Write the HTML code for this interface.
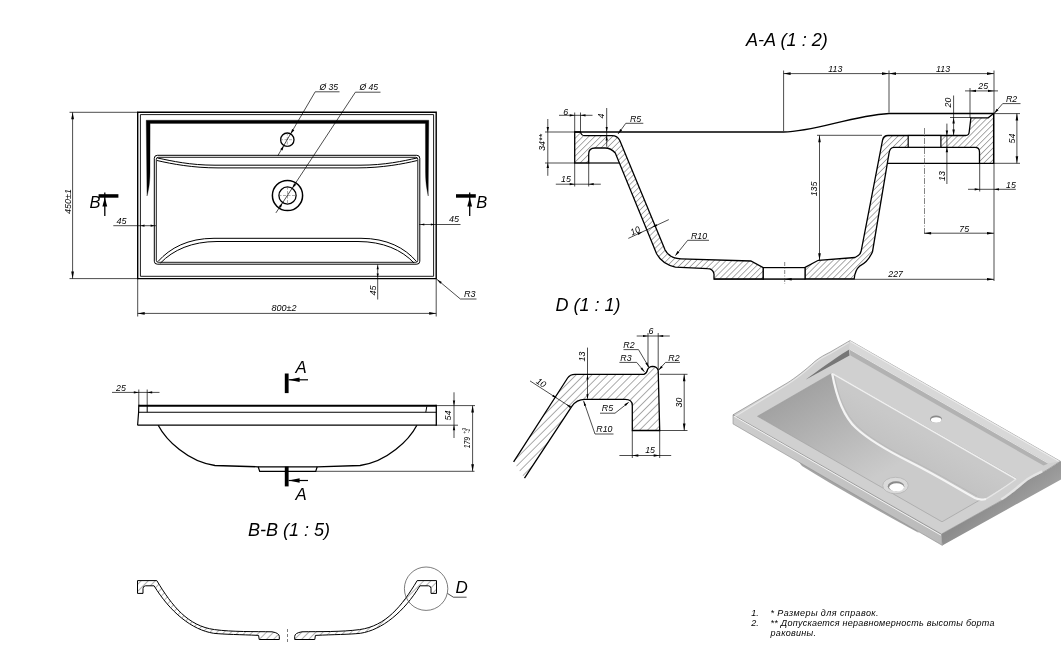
<!DOCTYPE html>
<html><head><meta charset="utf-8"><style>
html,body{margin:0;padding:0;background:#fff;}
svg{display:block;will-change:transform;}
text{fill:#000;}
</style></head><body>
<svg width="1061" height="660" viewBox="0 0 1061 660">
<defs>
<pattern id="hatch" patternUnits="userSpaceOnUse" width="5" height="5" patternTransform="rotate(-45)"><line x1="0" y1="0" x2="0" y2="5" stroke="#000" stroke-width="0.6"/></pattern>
<pattern id="hatchA" patternUnits="userSpaceOnUse" width="4.2" height="4.2" patternTransform="rotate(45)"><line x1="0" y1="0" x2="0" y2="4.2" stroke="#000" stroke-width="0.65"/></pattern>
<pattern id="hatchD" patternUnits="userSpaceOnUse" width="5.6" height="5.6" patternTransform="rotate(45)"><line x1="0" y1="0" x2="0" y2="5.6" stroke="#000" stroke-width="0.65"/></pattern>
<pattern id="hatchR" patternUnits="userSpaceOnUse" width="5" height="5" patternTransform="rotate(45)"><line x1="0" y1="0" x2="0" y2="5" stroke="#000" stroke-width="0.6"/></pattern>
<linearGradient id="gRight" x1="990" y1="500" x2="1010" y2="525" gradientUnits="userSpaceOnUse"><stop offset="0" stop-color="#8c8c8c"/><stop offset="1" stop-color="#a2a2a2"/></linearGradient>
<linearGradient id="gFront" x1="733" y1="420" x2="942" y2="540" gradientUnits="userSpaceOnUse"><stop offset="0" stop-color="#cdcdcd"/><stop offset="1" stop-color="#bababa"/></linearGradient>
<linearGradient id="gBack" x1="900" y1="420" x2="880" y2="455" gradientUnits="userSpaceOnUse"><stop offset="0" stop-color="#c9c9c9"/><stop offset="1" stop-color="#c0c0c0"/></linearGradient>
<linearGradient id="gBowl" x1="795" y1="394" x2="850" y2="492" gradientUnits="userSpaceOnUse"><stop offset="0" stop-color="#a2a2a2"/><stop offset="0.55" stop-color="#b9b9b9"/><stop offset="1" stop-color="#cbcbcb"/></linearGradient>
</defs>
<rect width="1061" height="660" fill="#fff"/>
<path d="M137.7,112.3H436.2V278.6H137.7Z" fill="none" stroke="#000" stroke-width="1.4" />
<path d="M140.4,114.6H433.6V276.3H140.4Z" fill="none" stroke="#000" stroke-width="0.9" />
<path d="M146.2,120.2H428.8L428.2,196C427.6,192 425.6,186 425.5,172L425.4,123.4H150.1L150,172C149.9,186 148,192 147.0,196Z" fill="#000" stroke="#000" stroke-width="0.3" />
<path d="M157.3,155.3H416.8Q419.8,155.3 419.8,158.3V261.2Q419.8,264.2 416.8,264.2H157.3Q154.3,264.2 154.3,261.2V158.3Q154.3,155.3 157.3,155.3Z" fill="none" stroke="#000" stroke-width="1.0" />
<path d="M158.3,157.3H415.8Q417.8,157.3 417.8,159.3V260.3Q417.8,262.3 415.8,262.3H158.3Q156.3,262.3 156.3,260.3V159.3Q156.3,157.3 158.3,157.3Z" fill="none" stroke="#000" stroke-width="0.9" />
<path d="M157.5,158C172,161 190,165.2 215,165.2H360C385,165.2 403,161 417,158" fill="none" stroke="#000" stroke-width="1.0" />
<path d="M157,160.5C172,164 193,167.9 218,167.9H357C382,167.9 403,164 417.3,160.5" fill="none" stroke="#000" stroke-width="1.0" />
<path d="M158,261.5C170,248 188,238.3 214,238.3H361C387,238.3 405,248 416.5,261.5" fill="none" stroke="#000" stroke-width="1.0" />
<path d="M160.5,263C173,250 192,241.5 217,241.5H358C383,241.5 402,250 414,263" fill="none" stroke="#000" stroke-width="1.0" />
<circle cx="287.3" cy="139.7" r="6.7" fill="none" stroke="#000" stroke-width="1.3"/>
<line x1="280" y1="139.7" x2="294.6" y2="139.7" stroke="#555" stroke-width="0.5" stroke-dasharray="3,1.5"/>
<line x1="287.3" y1="132.5" x2="287.3" y2="147" stroke="#555" stroke-width="0.5" stroke-dasharray="3,1.5"/>
<circle cx="287.5" cy="195.5" r="15.1" fill="none" stroke="#000" stroke-width="1.5"/>
<circle cx="287.5" cy="195.5" r="8.6" fill="none" stroke="#000" stroke-width="1.3"/>
<line x1="278.5" y1="195.5" x2="296.5" y2="195.5" stroke="#555" stroke-width="0.5" stroke-dasharray="3,1.5"/>
<line x1="287.5" y1="186.5" x2="287.5" y2="204.5" stroke="#555" stroke-width="0.5" stroke-dasharray="3,1.5"/>
<line x1="315.2" y1="91.8" x2="339.5" y2="91.8" stroke="#000" stroke-width="0.7" />
<line x1="315.2" y1="91.8" x2="277.7" y2="155.9" stroke="#000" stroke-width="0.7" />
<path d="M290.7,133.9L294.34,130.23L292.09,128.93Z" fill="#000"/>
<path d="M283.9,145.5L280.26,149.17L282.51,150.47Z" fill="#000"/>
<text x="319.5" y="89.6" font-size="8.6" font-style="italic" font-family="Liberation Sans" text-anchor="start" >Ø 35</text>
<line x1="355.4" y1="92.2" x2="380.5" y2="92.2" stroke="#000" stroke-width="0.7" />
<line x1="355.4" y1="92.2" x2="275.9" y2="212.9" stroke="#000" stroke-width="0.7" />
<path d="M292.4,188.2L296.23,184.73L294.05,183.3Z" fill="#000"/>
<path d="M282.6,202.8L278.78,206.27L280.95,207.7Z" fill="#000"/>
<text x="359.5" y="90" font-size="8.6" font-style="italic" font-family="Liberation Sans" text-anchor="start" >Ø 45</text>
<line x1="69.5" y1="112.3" x2="137.7" y2="112.3" stroke="#000" stroke-width="0.7" />
<line x1="69.5" y1="278.6" x2="137.7" y2="278.6" stroke="#000" stroke-width="0.7" />
<line x1="72.6" y1="112.3" x2="72.6" y2="278.6" stroke="#000" stroke-width="0.7" />
<path d="M72.6,112.3L71.2,119.3L74,119.3Z" fill="#000"/>
<path d="M72.6,278.6L74,271.6L71.2,271.6Z" fill="#000"/>
<text x="70.8" y="201.5" font-size="9" font-style="italic" font-family="Liberation Sans" text-anchor="middle" transform="rotate(-90 70.8 201.5)" >450±1</text>
<line x1="137.7" y1="279" x2="137.7" y2="316.5" stroke="#000" stroke-width="0.7" />
<line x1="436.2" y1="279" x2="436.2" y2="316.5" stroke="#000" stroke-width="0.7" />
<line x1="137.7" y1="313.4" x2="436.2" y2="313.4" stroke="#000" stroke-width="0.7" />
<path d="M137.7,313.4L144.7,314.8L144.7,312Z" fill="#000"/>
<path d="M436.2,313.4L429.2,312L429.2,314.8Z" fill="#000"/>
<text x="271.5" y="311.3" font-size="9" font-style="italic" font-family="Liberation Sans" text-anchor="start" >800±2</text>
<line x1="113.3" y1="225.7" x2="156" y2="225.7" stroke="#000" stroke-width="0.7" />
<path d="M140.5,225.7L144.5,226.8L144.5,224.6Z" fill="#000"/>
<path d="M154.6,225.7L150.6,224.6L150.6,226.8Z" fill="#000"/>
<text x="116.5" y="223.8" font-size="9" font-style="italic" font-family="Liberation Sans" text-anchor="start" >45</text>
<line x1="419" y1="224.5" x2="460.5" y2="224.5" stroke="#000" stroke-width="0.7" />
<path d="M420.3,224.5L424.3,225.6L424.3,223.4Z" fill="#000"/>
<path d="M434.8,224.5L430.8,223.4L430.8,225.6Z" fill="#000"/>
<text x="449" y="222.3" font-size="9" font-style="italic" font-family="Liberation Sans" text-anchor="start" >45</text>
<line x1="377.7" y1="264.5" x2="377.7" y2="299.5" stroke="#000" stroke-width="0.7" />
<path d="M377.7,265.2L376.6,269.2L378.8,269.2Z" fill="#000"/>
<path d="M377.7,277.6L378.8,273.6L376.6,273.6Z" fill="#000"/>
<text x="376.3" y="290.5" font-size="9" font-style="italic" font-family="Liberation Sans" text-anchor="middle" transform="rotate(-90 376.3 290.5)" >45</text>
<line x1="436.5" y1="279" x2="460.4" y2="299" stroke="#000" stroke-width="0.7" />
<line x1="460.4" y1="299" x2="476.5" y2="299" stroke="#000" stroke-width="0.7" />
<path d="M437.2,279.6L440.27,283.72L441.81,281.88Z" fill="#000"/>
<text x="464" y="296.5" font-size="9" font-style="italic" font-family="Liberation Sans" text-anchor="start" >R3</text>
<rect x="98.6" y="194.2" width="19.8" height="3.5" fill="#000"/>
<line x1="104.8" y1="192.5" x2="104.8" y2="216" stroke="#000" stroke-width="1.3" />
<path d="M104.8,197.5L102.4,206.5L107.2,206.5Z" fill="#000"/>
<text x="89.5" y="208.3" font-size="16.5" font-style="italic" font-family="Liberation Sans" text-anchor="start" >B</text>
<rect x="456" y="194.2" width="19.8" height="3.5" fill="#000"/>
<line x1="469.7" y1="192.5" x2="469.7" y2="216" stroke="#000" stroke-width="1.3" />
<path d="M469.7,197.5L467.3,206.5L472.1,206.5Z" fill="#000"/>
<text x="476.3" y="208.3" font-size="16.5" font-style="italic" font-family="Liberation Sans" text-anchor="start" >B</text>
<line x1="138.8" y1="405.7" x2="436.3" y2="405.7" stroke="#000" stroke-width="2.0" />
<line x1="138.8" y1="412.2" x2="436.3" y2="412.2" stroke="#000" stroke-width="1.1" />
<line x1="137.6" y1="425.2" x2="436.3" y2="425.2" stroke="#000" stroke-width="1.3" />
<path d="M138.8,404.8L138.6,412.2L137.6,425.2" fill="none" stroke="#000" stroke-width="1.2" />
<line x1="436.3" y1="404.8" x2="436.3" y2="425.8" stroke="#000" stroke-width="1.3" />
<line x1="147.2" y1="405.7" x2="147.2" y2="412.2" stroke="#000" stroke-width="1.0" />
<path d="M426.8,406.5L425.8,412.2" fill="none" stroke="#000" stroke-width="1.0" />
<path d="M158.2,425.2C166,440 188,462 215,465.5L258,466.8H317L360.1,465.5C387.1,462 409.1,440 416.9,425.2" fill="none" stroke="#000" stroke-width="1.3" />
<path d="M258.2,466.8L259.7,471.4H315.7L317.2,466.8" fill="none" stroke="#000" stroke-width="1.2" />
<line x1="316" y1="471.3" x2="474.5" y2="471.3" stroke="#000" stroke-width="0.7" />
<line x1="112" y1="392.4" x2="159.5" y2="392.4" stroke="#000" stroke-width="0.7" />
<line x1="138.8" y1="389.5" x2="138.8" y2="405" stroke="#000" stroke-width="0.7" />
<line x1="147.2" y1="389.5" x2="147.2" y2="405" stroke="#000" stroke-width="0.7" />
<path d="M138.8,392.4L133.8,391.3L133.8,393.5Z" fill="#000"/>
<path d="M147.2,392.4L152.2,393.5L152.2,391.3Z" fill="#000"/>
<text x="116" y="390.8" font-size="8.8" font-style="italic" font-family="Liberation Sans" text-anchor="start" >25</text>
<line x1="436.3" y1="405.6" x2="475" y2="405.6" stroke="#000" stroke-width="0.7" />
<line x1="436.3" y1="425.2" x2="458" y2="425.2" stroke="#000" stroke-width="0.7" />
<line x1="454" y1="392.3" x2="454" y2="438" stroke="#000" stroke-width="0.7" />
<path d="M454,405.6L455.2,400.6L452.8,400.6Z" fill="#000"/>
<path d="M454,425.2L452.8,430.2L455.2,430.2Z" fill="#000"/>
<text x="451.5" y="415.4" font-size="9" font-style="italic" font-family="Liberation Sans" text-anchor="middle" transform="rotate(-90 451.5 415.4)" >54</text>
<line x1="472.6" y1="405.6" x2="472.6" y2="471.3" stroke="#000" stroke-width="0.7" />
<path d="M472.6,405.6L471.2,412.6L474,412.6Z" fill="#000"/>
<path d="M472.6,471.3L474,464.3L471.2,464.3Z" fill="#000"/>
<text x="470.3" y="442.6" font-size="8.4" font-style="italic" font-family="Liberation Sans" text-anchor="middle" transform="rotate(-90 470.3 442.6)" textLength="11.5" lengthAdjust="spacingAndGlyphs">179</text>
<text x="465.6" y="430.8" font-size="5.2" font-style="italic" font-family="Liberation Sans" text-anchor="middle" transform="rotate(-90 465.6 430.8)" >+3</text>
<text x="470.4" y="430.8" font-size="5.2" font-style="italic" font-family="Liberation Sans" text-anchor="middle" transform="rotate(-90 470.4 430.8)" >-1</text>
<rect x="284.8" y="373.5" width="3.8" height="19.6" fill="#000"/>
<line x1="288.6" y1="379.8" x2="308" y2="379.8" stroke="#000" stroke-width="1.2" />
<path d="M288.6,379.8L299.6,382.1L299.6,377.5Z" fill="#000"/>
<text x="295.5" y="373.2" font-size="16.8" font-style="italic" font-family="Liberation Sans" text-anchor="start" >A</text>
<rect x="284.8" y="466.6" width="3.8" height="19.8" fill="#000"/>
<line x1="288.6" y1="480.5" x2="308" y2="480.5" stroke="#000" stroke-width="1.2" />
<path d="M288.6,480.5L299.6,482.8L299.6,478.2Z" fill="#000"/>
<text x="295.5" y="499.6" font-size="16.8" font-style="italic" font-family="Liberation Sans" text-anchor="start" >A</text>
<text x="248" y="535.6" font-size="18" font-style="italic" font-family="Liberation Sans" text-anchor="start" >B-B (1 : 5)</text>
<path d="M137.5,580.6H156.8C172,606 188,626 214.5,629.6C232,632 255,631.5 272,631.8Q279.3,633 279.3,636.4V639.5H259.2L258.6,635.4C240,634.5 225,634.5 213.7,633.3C192,630 170,612 154.1,585.8H145.5Q143,586 143,588.5V593.4H137.5Z" fill="url(#hatchR)" stroke="#000" stroke-width="1.0"/>
<g transform="matrix(-1,0,0,1,574,0)"><path d="M137.5,580.6H156.8C172,606 188,626 214.5,629.6C232,632 255,631.5 272,631.8Q279.3,633 279.3,636.4V639.5H259.2L258.6,635.4C240,634.5 225,634.5 213.7,633.3C192,630 170,612 154.1,585.8H145.5Q143,586 143,588.5V593.4H137.5Z" fill="url(#hatch)" stroke="#000" stroke-width="1.0"/></g>
<line x1="287.5" y1="629" x2="287.5" y2="643" stroke="#444" stroke-width="0.7" stroke-dasharray="3,2"/>
<circle cx="426.1" cy="588.7" r="21.7" fill="none" stroke="#444" stroke-width="0.7"/>
<line x1="447.6" y1="593.5" x2="453.4" y2="597.2" stroke="#000" stroke-width="0.7" />
<line x1="453.4" y1="597.2" x2="466.6" y2="597.2" stroke="#000" stroke-width="0.7" />
<text x="455.6" y="593.2" font-size="17" font-style="italic" font-family="Liberation Sans" text-anchor="start" >D</text>
<path d="M574.7,132H580.5Q581.2,135.6 584.5,135.6H612Q617.5,135.6 619.8,140.5L665,249.7Q669,258.3 681,258.8L750.8,261L763.3,267.6V279H714V274Q713,268.6 707.4,268.6L675.4,267.1Q662,264 656.5,253.5L615.3,153Q611,148 605,148H595Q588.7,148 588.7,154V163H574.7Z" fill="url(#hatchA)" stroke="#000" stroke-width="1.3"/>
<path d="M818.3,260.3L855,257.5Q860.5,255 861.2,250.8L882.6,140Q883.6,135.5 888,135.5H965.5Q969,135.5 969.2,132L970.9,117.8H988.2L993.6,113.6V163.3H979.5V152Q979.5,147.3 975,147.3H894Q889.8,147.3 889,153.3L872.5,251.7Q868,262 860,265.8Q855,270 854.2,278.8H805V267.5Z" fill="url(#hatchA)" stroke="#000" stroke-width="1.3"/>
<rect x="908.2" y="135.5" width="32.7" height="11.8" fill="#fff" stroke="#000" stroke-width="1.2"/>
<rect x="763.3" y="267.6" width="41.7" height="11.4" fill="#fff" stroke="#000" stroke-width="1.2"/>
<path d="M574.7,132H783.6C815,131.8 850,116 889,113.5H993.6" fill="none" stroke="#000" stroke-width="1.4" />
<line x1="588.7" y1="163" x2="619.4" y2="163" stroke="#000" stroke-width="1.2" />
<line x1="887.3" y1="163.3" x2="979.5" y2="163.3" stroke="#000" stroke-width="1.2" />
<line x1="714" y1="279.3" x2="994" y2="279.3" stroke="#000" stroke-width="0.7" />
<line x1="784.7" y1="262" x2="784.7" y2="284" stroke="#333" stroke-width="0.6" stroke-dasharray="4,1.5,1,1.5"/>
<line x1="924.5" y1="128" x2="924.5" y2="233.5" stroke="#333" stroke-width="0.6" stroke-dasharray="6,1.5,1,1.5"/>
<line x1="559" y1="115.3" x2="592.5" y2="115.3" stroke="#000" stroke-width="0.7" />
<line x1="574.7" y1="112.5" x2="574.7" y2="132" stroke="#000" stroke-width="0.7" />
<line x1="580.5" y1="112.5" x2="580.5" y2="132" stroke="#000" stroke-width="0.7" />
<path d="M574.7,115.3L569.7,114.2L569.7,116.4Z" fill="#000"/>
<path d="M580.5,115.3L585.5,116.4L585.5,114.2Z" fill="#000"/>
<text x="563.3" y="114.6" font-size="8.8" font-style="italic" font-family="Liberation Sans" text-anchor="start" >6</text>
<line x1="606.7" y1="108" x2="606.7" y2="146.7" stroke="#000" stroke-width="0.7" />
<path d="M606.7,132L607.8,127L605.6,127Z" fill="#000"/>
<path d="M606.7,135.6L605.6,140.6L607.8,140.6Z" fill="#000"/>
<text x="604.4" y="116" font-size="8.8" font-style="italic" font-family="Liberation Sans" text-anchor="middle" transform="rotate(-90 604.4 116)" >4</text>
<line x1="618" y1="134" x2="625.8" y2="123.3" stroke="#000" stroke-width="0.7" />
<line x1="625.8" y1="123.3" x2="643.3" y2="123.3" stroke="#000" stroke-width="0.7" />
<path d="M618.2,133.8L622.12,130.47L620.18,129.06Z" fill="#000"/>
<text x="630" y="121.6" font-size="8.8" font-style="italic" font-family="Liberation Sans" text-anchor="start" >R5</text>
<line x1="545" y1="132" x2="574.7" y2="132" stroke="#000" stroke-width="0.7" />
<line x1="545" y1="163" x2="574.7" y2="163" stroke="#000" stroke-width="0.7" />
<line x1="547.8" y1="119" x2="547.8" y2="175.8" stroke="#000" stroke-width="0.7" />
<path d="M547.8,132L549,127L546.6,127Z" fill="#000"/>
<path d="M547.8,163L546.6,168L549,168Z" fill="#000"/>
<text x="545.2" y="142.5" font-size="8.8" font-style="italic" font-family="Liberation Sans" text-anchor="middle" transform="rotate(-90 545.2 142.5)" >34**</text>
<line x1="555.8" y1="184.2" x2="600.8" y2="184.2" stroke="#000" stroke-width="0.7" />
<line x1="574.7" y1="163" x2="574.7" y2="186.5" stroke="#000" stroke-width="0.7" />
<line x1="588.7" y1="163" x2="588.7" y2="186.5" stroke="#000" stroke-width="0.7" />
<path d="M574.7,184.2L569.7,183.1L569.7,185.3Z" fill="#000"/>
<path d="M588.7,184.2L593.7,185.3L593.7,183.1Z" fill="#000"/>
<text x="561" y="182" font-size="8.8" font-style="italic" font-family="Liberation Sans" text-anchor="start" >15</text>
<line x1="628.3" y1="238.4" x2="668.8" y2="219.6" stroke="#000" stroke-width="0.7" />
<path d="M642.5,231.8L637.5,232.9L638.42,234.89Z" fill="#000"/>
<path d="M652.3,227.2L657.3,226.1L656.38,224.1Z" fill="#000"/>
<text x="632" y="235.6" font-size="8.8" font-style="italic" font-family="Liberation Sans" text-anchor="start" transform="rotate(-25 632 235.6)" >10</text>
<line x1="675.5" y1="255.5" x2="687.7" y2="240.3" stroke="#000" stroke-width="0.7" />
<line x1="687.7" y1="240.3" x2="709" y2="240.3" stroke="#000" stroke-width="0.7" />
<path d="M675.3,255.8L679.3,252.57L677.4,251.11Z" fill="#000"/>
<text x="691" y="238.6" font-size="8.8" font-style="italic" font-family="Liberation Sans" text-anchor="start" >R10</text>
<line x1="783.6" y1="73.6" x2="994" y2="73.6" stroke="#000" stroke-width="0.7" />
<line x1="783.6" y1="70.5" x2="783.6" y2="131" stroke="#000" stroke-width="0.7" />
<line x1="889" y1="70.5" x2="889" y2="112.5" stroke="#000" stroke-width="0.7" />
<line x1="994" y1="70.5" x2="994" y2="281" stroke="#000" stroke-width="0.7" />
<path d="M783.6,73.6L790.6,74.9L790.6,72.3Z" fill="#000"/>
<path d="M889,73.6L882,72.3L882,74.9Z" fill="#000"/>
<path d="M889,73.6L896,74.9L896,72.3Z" fill="#000"/>
<path d="M994,73.6L987,72.3L987,74.9Z" fill="#000"/>
<text x="828.3" y="72" font-size="8.8" font-style="italic" font-family="Liberation Sans" text-anchor="start" >113</text>
<text x="936" y="72" font-size="8.8" font-style="italic" font-family="Liberation Sans" text-anchor="start" >113</text>
<line x1="965" y1="90.9" x2="998" y2="90.9" stroke="#000" stroke-width="0.7" />
<line x1="970" y1="88" x2="970" y2="117.8" stroke="#000" stroke-width="0.7" />
<path d="M970,90.9L976,92.1L976,89.7Z" fill="#000"/>
<path d="M994,90.9L988,89.7L988,92.1Z" fill="#000"/>
<text x="978.3" y="88.6" font-size="8.8" font-style="italic" font-family="Liberation Sans" text-anchor="start" >25</text>
<line x1="994.3" y1="113.3" x2="1002.7" y2="103.6" stroke="#000" stroke-width="0.7" />
<line x1="1002.7" y1="103.6" x2="1020.5" y2="103.6" stroke="#000" stroke-width="0.7" />
<path d="M994.3,113.3L998.47,110.29L996.65,108.73Z" fill="#000"/>
<text x="1006" y="101.8" font-size="8.8" font-style="italic" font-family="Liberation Sans" text-anchor="start" >R2</text>
<line x1="953.6" y1="95.5" x2="953.6" y2="135.5" stroke="#000" stroke-width="0.7" />
<line x1="950" y1="117.5" x2="971" y2="117.5" stroke="#000" stroke-width="0.7" />
<path d="M953.6,117.5L952.4,123.5L954.8,123.5Z" fill="#000"/>
<path d="M953.6,135.5L954.8,129.5L952.4,129.5Z" fill="#000"/>
<text x="951.4" y="102.5" font-size="8.8" font-style="italic" font-family="Liberation Sans" text-anchor="middle" transform="rotate(-90 951.4 102.5)" >20</text>
<line x1="946.9" y1="123.6" x2="946.9" y2="184" stroke="#000" stroke-width="0.7" />
<path d="M946.9,135.5L948.1,130.5L945.7,130.5Z" fill="#000"/>
<path d="M946.9,147.3L945.7,152.3L948.1,152.3Z" fill="#000"/>
<text x="944.6" y="176" font-size="8.8" font-style="italic" font-family="Liberation Sans" text-anchor="middle" transform="rotate(-90 944.6 176)" >13</text>
<line x1="994" y1="113.6" x2="1020" y2="113.6" stroke="#000" stroke-width="0.7" />
<line x1="994" y1="163.3" x2="1020" y2="163.3" stroke="#000" stroke-width="0.7" />
<line x1="1016.9" y1="113.6" x2="1016.9" y2="163.3" stroke="#000" stroke-width="0.7" />
<path d="M1016.9,113.6L1015.6,120.6L1018.2,120.6Z" fill="#000"/>
<path d="M1016.9,163.3L1018.2,156.3L1015.6,156.3Z" fill="#000"/>
<text x="1014.5" y="138.5" font-size="8.8" font-style="italic" font-family="Liberation Sans" text-anchor="middle" transform="rotate(-90 1014.5 138.5)" >54</text>
<line x1="968" y1="189.3" x2="1015.8" y2="189.3" stroke="#000" stroke-width="0.7" />
<line x1="979.7" y1="163.3" x2="979.7" y2="191.5" stroke="#000" stroke-width="0.7" />
<path d="M979.7,189.3L974.7,188.2L974.7,190.4Z" fill="#000"/>
<path d="M994,189.3L999,190.4L999,188.2Z" fill="#000"/>
<text x="1006" y="187.6" font-size="8.8" font-style="italic" font-family="Liberation Sans" text-anchor="start" >15</text>
<line x1="924.1" y1="233.2" x2="994" y2="233.2" stroke="#000" stroke-width="0.7" />
<path d="M924.1,233.2L931.1,234.5L931.1,231.9Z" fill="#000"/>
<path d="M994,233.2L987,231.9L987,234.5Z" fill="#000"/>
<text x="959.3" y="231.6" font-size="8.8" font-style="italic" font-family="Liberation Sans" text-anchor="start" >75</text>
<line x1="817" y1="135.3" x2="882" y2="135.3" stroke="#000" stroke-width="0.7" />
<line x1="819.5" y1="135.3" x2="819.5" y2="260.3" stroke="#000" stroke-width="0.7" />
<path d="M819.5,135.3L818.2,142.3L820.8,142.3Z" fill="#000"/>
<path d="M819.5,260.3L820.8,253.3L818.2,253.3Z" fill="#000"/>
<text x="817.2" y="189" font-size="8.8" font-style="italic" font-family="Liberation Sans" text-anchor="middle" transform="rotate(-90 817.2 189)" >135</text>
<path d="M784.7,279.3L791.7,280.6L791.7,278Z" fill="#000"/>
<path d="M994,279.3L987,278L987,280.6Z" fill="#000"/>
<text x="888.3" y="277.2" font-size="8.8" font-style="italic" font-family="Liberation Sans" text-anchor="start" >227</text>
<path d="M513.6,461.8L567.6,378Q570,374.3 575,374.3H643.9Q646.6,373.6 647.6,369.6Q649,366.4 652.6,366.4Q657.2,366.6 658.2,370.5L659.7,430.5H632.3V405.5Q632.3,399.4 625.1,399.4H584.8Q576.5,399.4 571.8,406.4L524.5,478.2Z" fill="url(#hatchD)" stroke="none"/>
<path d="M513.6,461.8L567.6,378Q570,374.3 575,374.3H643.9Q646.6,373.6 647.6,369.6Q649,366.4 652.6,366.4Q657.2,366.6 658.2,370.5L659.7,430.5H632.3V405.5Q632.3,399.4 625.1,399.4H584.8Q576.5,399.4 571.8,406.4L524.5,478.2" fill="none" stroke="#000" stroke-width="1.3" />
<line x1="587.5" y1="347.6" x2="587.5" y2="398.5" stroke="#000" stroke-width="0.7" />
<path d="M587.5,374.6L586.4,379.6L588.6,379.6Z" fill="#000"/>
<path d="M587.5,399.2L588.6,394.2L586.4,394.2Z" fill="#000"/>
<text x="585.3" y="356.5" font-size="8.8" font-style="italic" font-family="Liberation Sans" text-anchor="middle" transform="rotate(-90 585.3 356.5)" >13</text>
<line x1="636.7" y1="336" x2="669.8" y2="336" stroke="#000" stroke-width="0.7" />
<line x1="648" y1="333" x2="648" y2="367" stroke="#000" stroke-width="0.7" />
<line x1="658.2" y1="333" x2="658.2" y2="370" stroke="#000" stroke-width="0.7" />
<path d="M648,336L643,334.9L643,337.1Z" fill="#000"/>
<path d="M658.2,336L663.2,337.1L663.2,334.9Z" fill="#000"/>
<text x="648.5" y="333.8" font-size="8.8" font-style="italic" font-family="Liberation Sans" text-anchor="start" >6</text>
<line x1="623.5" y1="349.6" x2="638.5" y2="349.6" stroke="#000" stroke-width="0.7" />
<line x1="638.5" y1="349.6" x2="648.8" y2="367" stroke="#000" stroke-width="0.7" />
<path d="M648.8,367.2L647.25,362.32L645.35,363.42Z" fill="#000"/>
<text x="623.3" y="347.6" font-size="8.8" font-style="italic" font-family="Liberation Sans" text-anchor="start" >R2</text>
<line x1="619.4" y1="362.4" x2="636.7" y2="362.4" stroke="#000" stroke-width="0.7" />
<line x1="636.7" y1="362.4" x2="644.5" y2="371.8" stroke="#000" stroke-width="0.7" />
<path d="M644.5,372L642.2,367.43L640.49,368.82Z" fill="#000"/>
<text x="620.3" y="360.6" font-size="8.8" font-style="italic" font-family="Liberation Sans" text-anchor="start" >R3</text>
<line x1="665.5" y1="362.4" x2="680" y2="362.4" stroke="#000" stroke-width="0.7" />
<line x1="665.5" y1="362.4" x2="658.6" y2="370" stroke="#000" stroke-width="0.7" />
<path d="M658.6,370.2L662.75,367.21L661.11,365.74Z" fill="#000"/>
<text x="668.3" y="360.6" font-size="8.8" font-style="italic" font-family="Liberation Sans" text-anchor="start" >R2</text>
<line x1="659.7" y1="374.3" x2="687.5" y2="374.3" stroke="#000" stroke-width="0.7" />
<line x1="659.7" y1="430.5" x2="687.5" y2="430.5" stroke="#000" stroke-width="0.7" />
<line x1="684.2" y1="374.3" x2="684.2" y2="430.5" stroke="#000" stroke-width="0.7" />
<path d="M684.2,374.3L682.9,381.3L685.5,381.3Z" fill="#000"/>
<path d="M684.2,430.5L685.5,423.5L682.9,423.5Z" fill="#000"/>
<text x="681.6" y="402.5" font-size="8.8" font-style="italic" font-family="Liberation Sans" text-anchor="middle" transform="rotate(-90 681.6 402.5)" >30</text>
<line x1="619.4" y1="455.5" x2="671.2" y2="455.5" stroke="#000" stroke-width="0.7" />
<line x1="632.3" y1="430.5" x2="632.3" y2="458" stroke="#000" stroke-width="0.7" />
<line x1="659.7" y1="430.5" x2="659.7" y2="458" stroke="#000" stroke-width="0.7" />
<path d="M632.3,455.5L638.3,456.7L638.3,454.3Z" fill="#000"/>
<path d="M659.7,455.5L653.7,454.3L653.7,456.7Z" fill="#000"/>
<text x="645.2" y="452.8" font-size="8.8" font-style="italic" font-family="Liberation Sans" text-anchor="start" >15</text>
<line x1="600" y1="413.2" x2="615" y2="413.2" stroke="#000" stroke-width="0.7" />
<line x1="615" y1="413.2" x2="628.5" y2="402.5" stroke="#000" stroke-width="0.7" />
<path d="M629,402L624.38,404.2L625.73,405.94Z" fill="#000"/>
<text x="601.8" y="411.2" font-size="8.8" font-style="italic" font-family="Liberation Sans" text-anchor="start" >R5</text>
<line x1="595" y1="434" x2="613.5" y2="434" stroke="#000" stroke-width="0.7" />
<line x1="595" y1="434" x2="583.6" y2="400.9" stroke="#000" stroke-width="0.7" />
<path d="M583.6,400.9L584.14,405.99L586.22,405.3Z" fill="#000"/>
<text x="596.3" y="432" font-size="8.8" font-style="italic" font-family="Liberation Sans" text-anchor="start" >R10</text>
<line x1="530" y1="380.9" x2="570.9" y2="407.3" stroke="#000" stroke-width="0.7" />
<path d="M557,398.3L553.41,394.65L552.21,396.5Z" fill="#000"/>
<path d="M566.2,404.3L569.82,407.92L571.01,406.06Z" fill="#000"/>
<text x="535.5" y="382.6" font-size="8.8" font-style="italic" font-family="Liberation Sans" text-anchor="start" transform="rotate(33 535.5 382.6)" >10</text>
<path d="M941.4,534.1L1001.2,500.7C1006,498 1010,494.5 1014.8,490.9C1019,487.5 1023,484 1026.9,481C1032,477.5 1037,475 1042.1,472.7C1048,469.5 1054,465.5 1060.2,461.2L1061,461.2V479.5L942.3,545.4Z" fill="url(#gRight)"/>
<path d="M798,461L916,529.5L919,533Q880,512 830,483Q815,474 802,466Z" fill="#a4a4a4"/>
<path d="M733,414.8L941.4,534.1L942.3,545.4L733,423.9Z" fill="url(#gFront)" stroke="#8e8e8e" stroke-width="0.6"/>
<path d="M733,414.8L788,382.5C795,378 805,370.5 815,361.3C820,357.2 825,354.6 830,352.2L850,340.6L1060.2,461.2C1054,465.5 1048,469.5 1042.1,472.7C1037,475 1032,477.5 1026.9,481C1023,484 1019,487.5 1014.8,490.9C1010,494.5 1006,498 1001.2,500.7L941.4,534.1Z" fill="#d0d0d0" stroke="#8e8e8e" stroke-width="0.7"/>
<path d="M1001.2,499.3C1006,496.6 1010,493.1 1014.8,489.5C1019,486.1 1023,482.6 1026.9,479.6C1032,476.1 1037,473.6 1042.1,471.3" fill="none" stroke="#e4e4e4" stroke-width="2.4"/>
<line x1="734" y1="416.2" x2="941" y2="535.2" stroke="#f2f2f2" stroke-width="1.0" />
<path d="M850,340.6L1060.2,461.2L1049,463.2L849.2,348.8Z" fill="#d8d8d8"/>
<path d="M849.2,348.8L1049,463.2L1043.5,465.6L850.5,355.6Z" fill="#b2b2b2"/>
<line x1="850" y1="341.5" x2="1058.5" y2="461.2" stroke="#efefef" stroke-width="0.9" />
<line x1="849.5" y1="349.2" x2="1048.5" y2="463.4" stroke="#eeeeee" stroke-width="0.8" />
<path d="M735,416.4L788,384.1C795,379.6 805,372.1 815,362.9C820,358.8 825,356.2 830,353.8L849,342.4" fill="none" stroke="#e6e6e6" stroke-width="1.2"/>
<path d="M848.9,349.8L849.5,355.5L805.5,379.8C818,371 832,360 848.9,349.8Z" fill="#777"/>
<path d="M757.5,416.3L832.1,373.2L1016.6,478.8L942,521.8Z" fill="url(#gBowl)" stroke="#9a9a9a" stroke-width="0.6"/>
<path d="M832.1,373.2L1016.6,478.8L982,500.5Q978,499.5 975,498C960,490 940,477 910,462C890,452 870,441 856,428C842,415 836,395 832.1,373.2Z" fill="url(#gBack)"/>
<path d="M832.1,373.2C836,395 842,415 856,428C870,441 890,452 910,462C940,477 960,490 975,498Q980,500.5 986,499" fill="none" stroke="#f4f4f4" stroke-width="2.2"/>
<path d="M834.5,376C838.5,396 844.5,414 858.5,427C872.5,440 892,450.5 912,460.5C942,475.5 962,488 977,496" fill="none" stroke="#b8b8b8" stroke-width="0.9"/>
<line x1="833" y1="373.8" x2="1016" y2="479.2" stroke="#f0f0f0" stroke-width="1.4" />
<path d="M986,499Q998,492 1016.6,478.8" fill="none" stroke="#e6e6e6" stroke-width="1.4"/>
<ellipse cx="936" cy="419.1" rx="6" ry="3.6" fill="#8a8a8a"/>
<ellipse cx="936.2" cy="420" rx="5.4" ry="2.7" fill="#fff"/>
<ellipse cx="895.5" cy="485.5" rx="12.8" ry="8.2" fill="#dadada" stroke="#b0b0b0" stroke-width="0.7"/>
<ellipse cx="896" cy="486.3" rx="8.2" ry="5" fill="#8a8a8a"/>
<ellipse cx="896.6" cy="487.3" rx="7.4" ry="4" fill="#fff"/>
<text x="746" y="45.9" font-size="18.1" font-style="italic" font-family="Liberation Sans" text-anchor="start" >A-A (1 : 2)</text>
<text x="555.5" y="310.7" font-size="18" font-style="italic" font-family="Liberation Sans" text-anchor="start" >D (1 : 1)</text>
<text x="751.3" y="616.1" font-size="9.0" font-style="italic" font-family="Liberation Sans" text-anchor="start" >1.</text>
<text x="770.5" y="616.1" font-size="9.0" font-style="italic" font-family="Liberation Sans" text-anchor="start" textLength="108" lengthAdjust="spacing">*  Размеры для справок.</text>
<text x="751.3" y="626" font-size="9.0" font-style="italic" font-family="Liberation Sans" text-anchor="start" >2.</text>
<text x="770.5" y="626" font-size="9.0" font-style="italic" font-family="Liberation Sans" text-anchor="start" textLength="224" lengthAdjust="spacing">** Допускается неравномерность высоты борта</text>
<text x="770.5" y="635.7" font-size="9.0" font-style="italic" font-family="Liberation Sans" text-anchor="start" textLength="45.5" lengthAdjust="spacing">раковины.</text>
</svg></body></html>
